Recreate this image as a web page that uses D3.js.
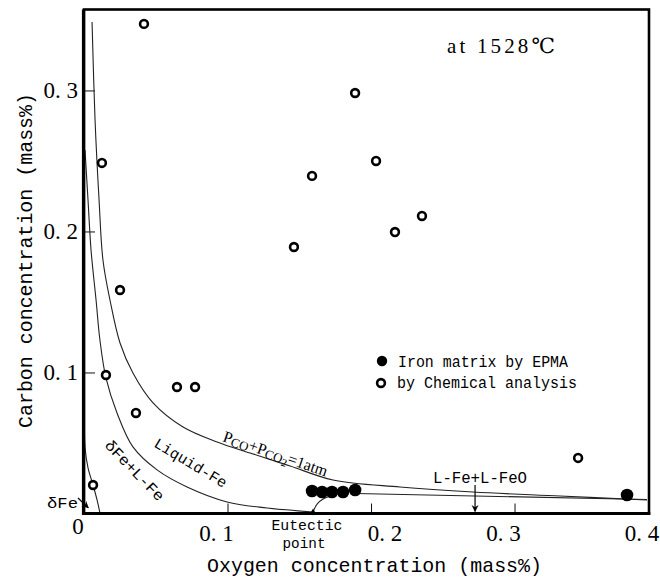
<!DOCTYPE html>
<html>
<head>
<meta charset="utf-8">
<script src="https://cdn.jsdelivr.net/npm/d3@7"></script>
<style>
  html, body { margin: 0; padding: 0; background: #fff; }
  svg { display: block; }
  .mono { font-family: "Liberation Mono", "DejaVu Sans Mono", monospace; }
  .serif { font-family: "Liberation Serif", "DejaVu Serif", serif; }
</style>
</head>
<body>
<svg id="chart" width="660" height="577"></svg>
<script>
// Fe–O–C equilibrium at 1528 °C: carbon vs oxygen content of the melt

// Measured compositions, iron matrix by EPMA (mass%)
const epmaOxygen = [0.1589, 0.1659, 0.1728, 0.1805, 0.1889, 0.3784];
const epmaCarbon = [0.0160, 0.0152, 0.0152, 0.0152, 0.0167, 0.0131];

// Measured compositions by chemical analysis (mass%)
const chemOxygen = [0.0418, 0.0125, 0.0251, 0.0153, 0.0362, 0.0648, 0.0774, 0.0063,
                    0.1889, 0.1589, 0.2035, 0.1463, 0.2167, 0.2355, 0.3443];
const chemCarbon = [0.3472, 0.2486, 0.1585, 0.0982, 0.0713, 0.0897, 0.0897, 0.0202,
                    0.2982, 0.2394, 0.2500, 0.1890, 0.1996, 0.2110, 0.0394];

// PCO + PCO2 = 1 atm equilibrium curve
const pcoOxygen = [0.0056, 0.0077, 0.0105, 0.0132, 0.0181, 0.0251, 0.0341, 0.0481, 0.0690,
                   0.0927, 0.1157, 0.1436, 0.1735, 0.2202, 0.2711, 0.3317, 0.3923];
const pcoCarbon = [0.3486, 0.2791, 0.2223, 0.1798, 0.1514, 0.1209, 0.0996, 0.0784, 0.0613,
                   0.0507, 0.0429, 0.0337, 0.0238, 0.0188, 0.0152, 0.0124, 0.0096];

// Liquid-Fe / δFe+L-Fe boundary, ending at the eutectic point
const liqOxygen = [0.0007, 0.0028, 0.0049, 0.0084, 0.0111, 0.0153, 0.0230, 0.0341,
                   0.0509, 0.0718, 0.0997, 0.1275, 0.1596];
const liqCarbon = [0.2578, 0.2223, 0.1869, 0.1514, 0.1230, 0.0961, 0.0713, 0.0472,
                   0.0309, 0.0188, 0.0082, 0.0039, 0.0011];

// δFe / δFe+L-Fe boundary
const deltaOxygen = [0.0003, 0.0007, 0.0028, 0.0063, 0.0091, 0.0111];
const deltaCarbon = [0.0663, 0.0472, 0.0323, 0.0202, 0.0096, 0.0004];

// L-Fe / L-FeO boundary
const feoOxygen = [0.1895, 0.3923];
const feoCarbon = [0.0142, 0.0099];

// Branch from the eutectic point up to the EPMA cluster
const eutOxygen = [0.1596, 0.1624, 0.1666, 0.1721];
const eutCarbon = [0.0011, 0.0067, 0.0103, 0.0124];

// Axis ticks
const xTickValues = [0.1, 0.2, 0.3, 0.4];
const xTickLabels = ["0. 1", "0. 2", "0. 3", "0. 4"];
const yTickValues = [0.1, 0.2, 0.3];
const yTickLabels = ["0. 1", "0. 2", "0. 3"];

const svg = d3.select("#chart");

const plotLeft = 84, plotRight = 649, plotTop = 9.5, plotBottom = 513.5;
const x = d3.scaleLinear().domain([0, 0.3937]).range([plotLeft, plotRight]);
const y = d3.scaleLinear().domain([0, 0.3574]).range([plotBottom, plotTop]);

const zip = (a, b) => a.map((v, i) => [v, b[i]]);

// Arrowhead marker
svg.append("defs").append("marker")
  .attr("id", "arrow")
  .attr("viewBox", "0 0 10 10")
  .attr("refX", 9).attr("refY", 5)
  .attr("markerWidth", 7).attr("markerHeight", 9)
  .attr("markerUnits", "userSpaceOnUse")
  .attr("orient", "auto")
  .append("path")
  .attr("d", "M0,0 L10,5 L0,10 L3,5 Z")
  .attr("fill", "#000");

// Inward ticks
const xAxis = d3.axisBottom(x).tickValues(xTickValues.filter(v => v < x.domain()[1]))
  .tickSize(-10).tickFormat("");
svg.append("g").attr("transform", `translate(0,${plotBottom})`).call(xAxis)
  .call(g => g.select(".domain").remove())
  .selectAll("line").attr("stroke", "#111").attr("stroke-width", 1);

const yAxis = d3.axisLeft(y).tickValues(yTickValues).tickSize(-11).tickFormat("");
svg.append("g").attr("transform", `translate(${plotLeft},0)`).call(yAxis)
  .call(g => g.select(".domain").remove())
  .selectAll("line").attr("stroke", "#111").attr("stroke-width", 1);

// Boundary curves
const curve = d3.line()
  .x(d => x(d[0])).y(d => y(d[1]))
  .curve(d3.curveCatmullRom.alpha(0.5));

const curves = [
  zip(pcoOxygen, pcoCarbon),
  zip(liqOxygen, liqCarbon),
  zip(deltaOxygen, deltaCarbon),
  zip(feoOxygen, feoCarbon),
  zip(eutOxygen, eutCarbon)
];
svg.append("g").selectAll("path").data(curves).join("path")
  .attr("d", curve)
  .attr("fill", "none")
  .attr("stroke", "#222")
  .attr("stroke-width", 1.1);

// Eutectic point marker
svg.append("path")
  .attr("transform", `translate(${x(liqOxygen[liqOxygen.length - 1])},${plotBottom - 1.5})`)
  .attr("d", d3.symbol(d3.symbolDiamond, 14))
  .attr("fill", "#000");

// Frame
svg.append("rect")
  .attr("x", plotLeft).attr("y", plotTop)
  .attr("width", plotRight - plotLeft).attr("height", plotBottom - plotTop)
  .attr("fill", "none").attr("stroke", "#000").attr("stroke-width", 2.6);
svg.append("line").attr("x1", plotLeft - 0.5).attr("x2", plotLeft - 0.5)
  .attr("y1", plotTop).attr("y2", plotBottom + 1.5)
  .attr("stroke", "#000").attr("stroke-width", 3.2);
svg.append("line").attr("x1", plotLeft - 2).attr("x2", plotRight + 1.3)
  .attr("y1", plotBottom).attr("y2", plotBottom)
  .attr("stroke", "#000").attr("stroke-width", 3.2);

// Data points
svg.append("g").selectAll("circle").data(zip(chemOxygen, chemCarbon)).join("circle")
  .attr("cx", d => x(d[0])).attr("cy", d => y(d[1]))
  .attr("r", 3.9)
  .attr("fill", "#fff").attr("stroke", "#000").attr("stroke-width", 2.6);

svg.append("g").selectAll("circle").data(zip(epmaOxygen, epmaCarbon)).join("circle")
  .attr("cx", d => x(d[0])).attr("cy", d => y(d[1]))
  .attr("r", 6.3)
  .attr("fill", "#000");

// Tick labels (0.2 sits right of its tick to clear the eutectic note)
const xLabelShift = v => (v === 0.2 ? 14 : v === 0.4 ? -16 : -11);
svg.append("g").selectAll("text").data(xTickValues).join("text")
  .attr("class", "serif")
  .attr("x", v => x(v) + xLabelShift(v))
  .attr("y", 541)
  .attr("text-anchor", "middle")
  .attr("font-size", 23)
  .text((v, i) => xTickLabels[i]);

svg.append("g").selectAll("text").data(yTickValues).join("text")
  .attr("class", "serif")
  .attr("x", 78)
  .attr("y", v => y(v) + 8)
  .attr("text-anchor", "end")
  .attr("font-size", 23)
  .text((v, i) => yTickLabels[i]);

svg.append("text").attr("class", "serif")
  .attr("x", 78).attr("y", 533.5)
  .attr("text-anchor", "middle").attr("font-size", 23)
  .text("0");

// Axis titles
svg.append("text").attr("class", "mono")
  .attr("x", 207).attr("y", 572)
  .attr("font-size", 21)
  .attr("textLength", 335).attr("lengthAdjust", "spacingAndGlyphs")
  .text("Oxygen concentration (mass%)");

svg.append("text").attr("class", "mono")
  .attr("transform", "translate(32,428) rotate(-90)")
  .attr("font-size", 21)
  .attr("textLength", 335).attr("lengthAdjust", "spacingAndGlyphs")
  .text("Carbon concentration (mass%)");

// Temperature note
svg.append("text").attr("class", "serif")
  .attr("x", 447).attr("y", 53)
  .attr("font-size", 21)
  .attr("textLength", 108).attr("lengthAdjust", "spacing")
  .text("at 1528℃");

// Legend
const legend = svg.append("g").attr("class", "mono").attr("font-size", 16);
legend.append("circle").attr("cx", 382).attr("cy", 361).attr("r", 5.2).attr("fill", "#000");
legend.append("text").attr("x", 398).attr("y", 367)
  .attr("textLength", 170).attr("lengthAdjust", "spacingAndGlyphs")
  .text("Iron matrix by EPMA");
legend.append("circle").attr("cx", 381).attr("cy", 383).attr("r", 3.9)
  .attr("fill", "#fff").attr("stroke", "#000").attr("stroke-width", 2.6);
legend.append("text").attr("x", 397).attr("y", 388)
  .attr("textLength", 180).attr("lengthAdjust", "spacingAndGlyphs")
  .text("by Chemical analysis");

// Region and curve labels
const pco = svg.append("text").attr("class", "serif")
  .attr("transform", "translate(222,441) rotate(19)")
  .attr("font-size", 16);
pco.append("tspan").text("P");
pco.append("tspan").attr("font-size", 13).attr("dy", 2).text("CO");
pco.append("tspan").attr("dy", -2).text("+P");
pco.append("tspan").attr("font-size", 13).attr("dy", 2).text("CO");
pco.append("tspan").attr("font-size", 11).attr("dy", 2).text("2");
pco.append("tspan").attr("dy", -4).text("=1atm");

svg.append("text").attr("class", "mono")
  .attr("transform", "translate(153,446) rotate(31)")
  .attr("font-size", 15)
  .attr("textLength", 82).attr("lengthAdjust", "spacingAndGlyphs")
  .text("Liquid-Fe");

svg.append("text").attr("class", "mono")
  .attr("transform", "translate(104,446) rotate(46)")
  .attr("font-size", 15)
  .attr("textLength", 78).attr("lengthAdjust", "spacingAndGlyphs")
  .text("δFe+L-Fe");

svg.append("text").attr("class", "mono")
  .attr("x", 47).attr("y", 508)
  .attr("font-size", 15)
  .attr("textLength", 31).attr("lengthAdjust", "spacingAndGlyphs")
  .text("δFe");
svg.append("line")
  .attr("x1", 78).attr("y1", 498).attr("x2", x(0.003)).attr("y2", y(0.004))
  .attr("stroke", "#000").attr("stroke-width", 1.2)
  .attr("marker-end", "url(#arrow)");

svg.append("text").attr("class", "mono")
  .attr("x", 433).attr("y", 483)
  .attr("font-size", 16)
  .attr("textLength", 94).attr("lengthAdjust", "spacingAndGlyphs")
  .text("L-Fe+L-FeO");
svg.append("line")
  .attr("x1", x(0.2725)).attr("y1", 485).attr("x2", x(0.2725)).attr("y2", y(0.0015))
  .attr("stroke", "#000").attr("stroke-width", 1.2)
  .attr("marker-end", "url(#arrow)");

const eut = svg.append("g").attr("class", "mono").attr("font-size", 15).attr("text-anchor", "middle");
eut.append("text").attr("x", 307).attr("y", 530)
  .attr("textLength", 71).attr("lengthAdjust", "spacingAndGlyphs").text("Eutectic");
eut.append("text").attr("x", 304).attr("y", 548)
  .attr("textLength", 43).attr("lengthAdjust", "spacingAndGlyphs").text("point");
</script>
</body>
</html>
